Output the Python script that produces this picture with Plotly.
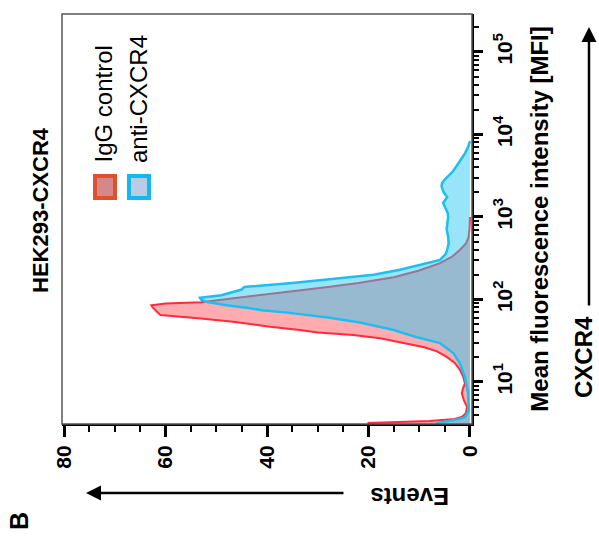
import numpy as np
import plotly.graph_objects as go

# Flow cytometry overlay: HEK293-CXCR4 stained with IgG control vs anti-CXCR4
# Histogram values: log10(MFI) positions and event counts
igg_log = [0.47, 0.503, 0.527, 0.55, 0.58, 0.62, 0.70, 0.78, 0.86, 0.92, 0.98,
           1.06, 1.15, 1.23, 1.30, 1.37, 1.42, 1.47, 1.53, 1.57, 1.60, 1.63,
           1.67, 1.73, 1.77, 1.81, 1.85, 1.90, 1.93, 1.95, 1.965, 2.00, 2.05,
           2.10, 2.15, 2.20, 2.27, 2.35, 2.44, 2.52, 2.60, 2.68, 2.75, 2.85, 3.00]
igg_events = [20, 20, 8, 3, 1.5, 0.8, 0.6, 1.2, 1.6, 1.4, 1.0,
              1.3, 2.0, 3.0, 4.5, 6.5, 9, 13, 17.7, 23, 30, 33.5,
              39.4, 46.7, 53, 61, 61.7, 62.5, 62.8, 60, 53, 48, 41,
              35, 28, 22, 15, 10, 5.9, 3.5, 2.0, 0.8, 0.3, 0.1, 0]

cxcr4_log = [0.47, 0.503, 0.54, 0.57, 0.66, 0.87, 1.06, 1.23, 1.35, 1.47, 1.55,
             1.63, 1.72, 1.78, 1.84, 1.87, 1.90, 1.93, 1.97, 2.00, 2.02, 2.05,
             2.12, 2.15, 2.20, 2.26, 2.30, 2.36, 2.42, 2.48, 2.55, 2.60, 2.68,
             2.76, 2.85, 2.93, 3.00, 3.05, 3.10, 3.17, 3.24, 3.30, 3.37, 3.41,
             3.45, 3.50, 3.55, 3.62, 3.69, 3.78, 3.86, 3.92]
cxcr4_events = [6.5, 6.5, 3, 1, 0.2, 0.4, 1.0, 2.0, 3.3, 5.9, 11,
                15, 21.7, 28, 36, 41, 44, 48, 52, 53, 53.2, 49,
                45, 44.5, 35, 25, 19, 13.8, 9.8, 5.9, 4.8, 4.5, 4.2,
                4.3, 4.6, 4.5, 4.3, 4.4, 4.8, 5.3, 4.5, 5.2, 5.6, 5.5,
                5.0, 4.2, 3.4, 2.6, 1.8, 0.9, 0.3, 0]

event_ticks = [0, 20, 40, 60, 80]
event_minor = [5, 10, 15, 25, 30, 35, 45, 50, 55, 65, 70, 75]
mfi_exponents = [1, 2, 3, 4, 5]
mfi_labels = [f"10<sup>{e}</sup>" for e in mfi_exponents]

FONT = "Arial, Liberation Sans, sans-serif"

mfi_major = [10.0 ** e for e in mfi_exponents]
mfi_minor = [m * 10.0 ** e for e in [0, 1, 2, 3, 4, 5] for m in range(2, 10)
             if 0.49 <= np.log10(m * 10.0 ** e) <= 5.46]

fig = go.Figure()

fig.add_trace(go.Scatter(
    x=igg_events, y=10 ** np.array(igg_log), mode="lines",
    fill="tozerox", fillcolor="rgba(255,90,100,0.5)",
    line=dict(color="#ff2a3a", width=2), name="IgG control",
    showlegend=False))

fig.add_trace(go.Scatter(
    x=cxcr4_events, y=10 ** np.array(cxcr4_log), mode="lines",
    fill="tozerox", fillcolor="rgba(40,200,245,0.48)",
    line=dict(color="#1ebff0", width=2.5), name="anti-CXCR4",
    showlegend=False))

fig.update_layout(
    width=599, height=542,
    margin=dict(l=62, r=127, t=14, b=118),
    paper_bgcolor="white", plot_bgcolor="white",
    font=dict(family=FONT, color="black"),
    xaxis=dict(
        range=[80.4, -0.4], tickmode="array", tickvals=event_ticks,
        ticks="outside", ticklen=11, tickwidth=3, tickcolor="black",
        tickangle=-90, tickfont=dict(size=21, weight="bold", family=FONT),
        showline=True, linewidth=2, linecolor="black",
        showgrid=False, zeroline=False,
        minor=dict(tickmode="array", tickvals=event_minor, ticks="outside",
                   ticklen=6, tickwidth=1.5, tickcolor="black", showgrid=False),
    ),
    yaxis=dict(
        type="log", side="right", range=[0.49, 5.46],
        tickmode="array", tickvals=mfi_major, ticktext=mfi_labels,
        ticks="outside", ticklen=9, tickwidth=3, tickcolor="black",
        tickangle=-90, tickfont=dict(size=21, weight="bold", family=FONT),
        ticklabelstandoff=4,
        showline=True, linewidth=2, linecolor="black",
        showgrid=False, zeroline=False,
        title=dict(text="<b>Mean fluorescence intensity [MFI]</b>",
                   font=dict(size=24, family=FONT), standoff=16),
        minor=dict(tickmode="array", tickvals=mfi_minor, ticks="outside",
                   ticklen=5, tickwidth=1.5, tickcolor="black", showgrid=False),
    ),
)

# thin frame on the open sides of the plot area
fig.add_shape(type="rect", xref="paper", yref="paper", x0=0, y0=0, x1=1, y1=1,
              line=dict(color="#555555", width=1.5), layer="above")


def px(xp):
    return (xp - 62) / 410


def py(yp):
    return (424 - yp) / 410


annotations = [
    dict(text="<b>HEK293-CXCR4</b>", x=px(40), y=py(210), textangle=-90,
         font=dict(size=22)),
    dict(text="IgG control", x=px(103), y=py(165), textangle=-90,
         yanchor="bottom", font=dict(size=24)),
    dict(text="anti-CXCR4", x=px(138), y=py(165), textangle=-90,
         yanchor="bottom", font=dict(size=24)),
    dict(text="<b>Events</b>", x=px(410), y=py(497), textangle=180,
         font=dict(size=24)),
    dict(text="<b>CXCR4</b>", x=px(583), y=py(357), textangle=-90,
         font=dict(size=24)),
    dict(text="<b>B</b>", x=px(19), y=py(521), textangle=-90,
         font=dict(size=25)),
]
for a in annotations:
    a.update(xref="paper", yref="paper", showarrow=False)
    a.setdefault("xanchor", "center")
    a.setdefault("yanchor", "middle")
    fig.add_annotation(**a)

# direction arrows
fig.add_annotation(x=px(86), y=py(493), ax=345 - 86, ay=0, xref="paper",
                   yref="paper", axref="pixel", ayref="pixel", text="",
                   showarrow=True, arrowhead=2, arrowsize=1.2, arrowwidth=2.5,
                   arrowcolor="black")
fig.add_annotation(x=px(589), y=py(27), ax=0, ay=307 - 27, xref="paper",
                   yref="paper", axref="pixel", ayref="pixel", text="",
                   showarrow=True, arrowhead=2, arrowsize=1.2, arrowwidth=2.5,
                   arrowcolor="black")

# legend swatches
fig.add_shape(type="rect", xref="paper", yref="paper",
              x0=px(95), x1=px(115), y0=py(198), y1=py(176),
              fillcolor="#d4888a", line=dict(color="#e0502a", width=4))
fig.add_shape(type="rect", xref="paper", yref="paper",
              x0=px(129), x1=px(149), y0=py(198), y1=py(176),
              fillcolor="#b8cce4", line=dict(color="#14b8f0", width=4))

fig.write_html("out.html")
